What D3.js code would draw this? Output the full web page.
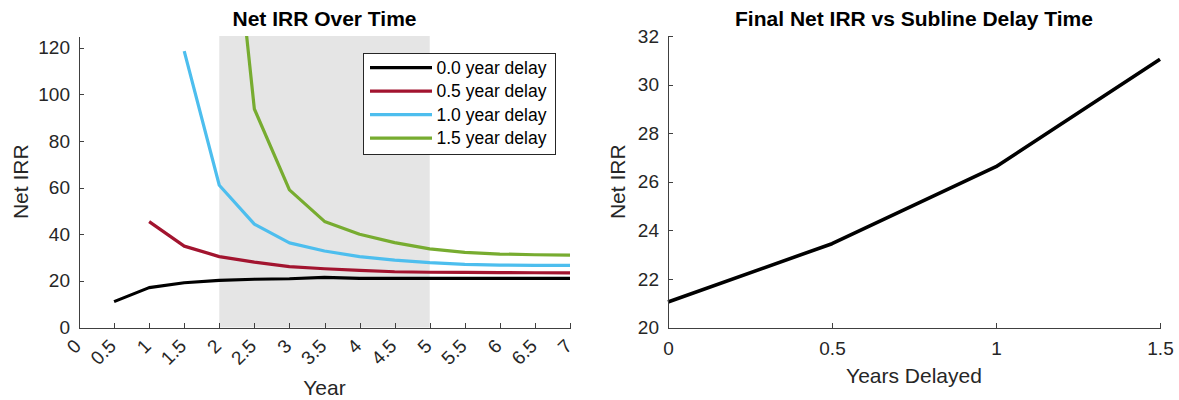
<!DOCTYPE html>
<html>
<head>
<meta charset="utf-8">
<script src="https://cdn.jsdelivr.net/npm/d3@7"></script>
<style>
  html, body { margin: 0; padding: 0; background: #fff; }
  svg { display: block; font-family: "Liberation Sans", Arial, Helvetica, sans-serif; }
  .axis path, .axis line { stroke: #404040; stroke-width: 1; shape-rendering: crispEdges; }
  .axis text { fill: #262626; font-size: 19px; }
</style>
</head>
<body>
<svg id="fig" width="1179" height="400"></svg>
<script>
// Year grid shared by all series
const years = [0, 0.5, 1, 1.5, 2, 2.5, 3, 3.5, 4, 4.5, 5, 5.5, 6, 6.5, 7];
const yearTickLabels = ["0", "0.5", "1", "1.5", "2", "2.5", "3", "3.5", "4", "4.5", "5", "5.5", "6", "6.5", "7"];

// Net IRR by year for each subline delay (each series starts half a year after its delay)
const delayLabels = ["0.0 year delay", "0.5 year delay", "1.0 year delay", "1.5 year delay"];
const delayStart = [0.5, 1, 1.5, 2];
const irrDelay00 = [11.1, 17.1, 19.2, 20.2, 20.7, 20.9, 21.5, 21.1, 21.05, 21.05, 21.05, 21.05, 21.05, 21.05];
const irrDelay05 = [45.4, 34.9, 30.4, 28.0, 26.1, 25.2, 24.5, 23.9, 23.7, 23.6, 23.5, 23.47, 23.45];
const irrDelay10 = [118.5, 61.0, 44.3, 36.3, 32.8, 30.4, 28.9, 27.8, 27.1, 26.75, 26.65, 26.62];
const irrDelay15 = [236, 93.7, 59.0, 45.5, 40.0, 36.4, 33.7, 32.2, 31.5, 31.2, 31.04];
const seriesColors = ["#000000", "#A2142F", "#4DBEEE", "#77AC30"];

// Highlighted window on the time axis
const shadeWindow = [2, 5];

// Final Net IRR against delay
const yearsDelayed = [0, 0.5, 1, 1.5];
const finalIrr = [21.05, 23.45, 26.62, 31.04];
const delayTicks = [0, 0.5, 1, 1.5];
const delayTickLabels = ["0", "0.5", "1", "1.5"];
const irrTicksLeft = [0, 20, 40, 60, 80, 100, 120];
const irrTicksRight = [20, 22, 24, 26, 28, 30, 32];

const svg = d3.select("#fig");
const plotTop = 36, plotBottom = 327.5;

/* ---------- Left panel: Net IRR Over Time ---------- */
const x1 = d3.scaleLinear().domain([0, 7]).range([79, 570]);
const y1 = d3.scaleLinear().domain([0, 125]).range([plotBottom, plotTop]);

svg.append("clipPath").attr("id", "clipL")
  .append("rect").attr("x", x1(0)).attr("y", plotTop)
  .attr("width", x1(7) - x1(0)).attr("height", plotBottom - plotTop);

svg.append("rect")
  .attr("x", x1(shadeWindow[0])).attr("y", y1(125))
  .attr("width", x1(shadeWindow[1]) - x1(shadeWindow[0]))
  .attr("height", y1(0) - y1(125))
  .attr("fill", "#e5e5e5");

const allSeries = [irrDelay00, irrDelay05, irrDelay10, irrDelay15];
const line1 = d3.line().x(d => x1(d[0])).y(d => y1(d[1]));
const gLines = svg.append("g").attr("clip-path", "url(#clipL)");
allSeries.forEach((vals, i) => {
  const pts = vals.map((v, k) => [delayStart[i] + 0.5 * k, v]);
  gLines.append("path").datum(pts)
    .attr("d", line1)
    .attr("fill", "none")
    .attr("stroke", seriesColors[i])
    .attr("stroke-width", 3.2)
    .attr("stroke-linejoin", "round");
});

// axes
svg.append("g").attr("class", "axis")
  .attr("transform", `translate(${x1(0)},0)`)
  .call(d3.axisLeft(y1).tickValues(irrTicksLeft).tickSizeInner(-5).tickSizeOuter(0).tickPadding(9));
const xAxL = svg.append("g").attr("class", "axis")
  .attr("transform", `translate(0,${plotBottom})`)
  .call(d3.axisBottom(x1).tickValues(years).tickFormat((d, i) => yearTickLabels[i])
    .tickSizeInner(-5).tickSizeOuter(0));
xAxL.selectAll(".tick text")
  .attr("y", 0).attr("dy", "0.35em")
  .attr("text-anchor", "end")
  .attr("transform", "translate(-2,15) rotate(-45)");

// titles and labels
svg.append("text").attr("x", (x1(0) + x1(7)) / 2).attr("y", 26)
  .attr("text-anchor", "middle").attr("font-weight", "bold").attr("font-size", 21)
  .attr("fill", "#000").text("Net IRR Over Time");
svg.append("text").attr("x", (x1(0) + x1(7)) / 2).attr("y", 395)
  .attr("text-anchor", "middle").attr("font-size", 21).attr("fill", "#262626").text("Year");
svg.append("text")
  .attr("transform", `translate(21,${(plotTop + plotBottom) / 2}) rotate(-90)`)
  .attr("dy", "0.35em").attr("text-anchor", "middle").attr("font-size", 21)
  .attr("fill", "#262626").text("Net IRR");

// legend
const lg = svg.append("g").attr("transform", "translate(363,53)");
lg.append("rect").attr("x", 0.5).attr("y", 0.5).attr("width", 192).attr("height", 101)
  .attr("fill", "#fff").attr("stroke", "#262626").attr("stroke-width", 1);
delayLabels.forEach((lab, i) => {
  const yy = 14.7 + i * 23.5;
  lg.append("line").attr("x1", 7).attr("x2", 69).attr("y1", yy).attr("y2", yy)
    .attr("stroke", seriesColors[i]).attr("stroke-width", 3.2);
  lg.append("text").attr("x", 73.5).attr("y", yy).attr("dy", "0.35em")
    .attr("font-size", 17.5).attr("fill", "#000").text(lab);
});

/* ---------- Right panel: Final Net IRR vs Subline Delay Time ---------- */
const x2 = d3.scaleLinear().domain([0, 1.5]).range([668, 1160]);
const y2 = d3.scaleLinear().domain([20, 32]).range([plotBottom, plotTop]);

svg.append("path")
  .datum(yearsDelayed.map((d, i) => [d, finalIrr[i]]))
  .attr("d", d3.line().x(d => x2(d[0])).y(d => y2(d[1])))
  .attr("fill", "none").attr("stroke", "#000").attr("stroke-width", 3.6)
  .attr("stroke-linejoin", "round");

svg.append("g").attr("class", "axis")
  .attr("transform", `translate(${x2(0)},0)`)
  .call(d3.axisLeft(y2).tickValues(irrTicksRight).tickSizeInner(-5).tickSizeOuter(0).tickPadding(9));
svg.append("g").attr("class", "axis")
  .attr("transform", `translate(0,${plotBottom})`)
  .call(d3.axisBottom(x2).tickValues(delayTicks).tickFormat((d, i) => delayTickLabels[i])
    .tickSizeInner(-5).tickSizeOuter(0).tickPadding(14));

svg.append("text").attr("x", (x2(0) + x2(1.5)) / 2).attr("y", 26)
  .attr("text-anchor", "middle").attr("font-weight", "bold").attr("font-size", 21)
  .attr("fill", "#000").text("Final Net IRR vs Subline Delay Time");
svg.append("text").attr("x", (x2(0) + x2(1.5)) / 2).attr("y", 383)
  .attr("text-anchor", "middle").attr("font-size", 21).attr("fill", "#262626").text("Years Delayed");
svg.append("text")
  .attr("transform", `translate(618,${(plotTop + plotBottom) / 2}) rotate(-90)`)
  .attr("dy", "0.35em").attr("text-anchor", "middle").attr("font-size", 21)
  .attr("fill", "#262626").text("Net IRR");
</script>
</body>
</html>
